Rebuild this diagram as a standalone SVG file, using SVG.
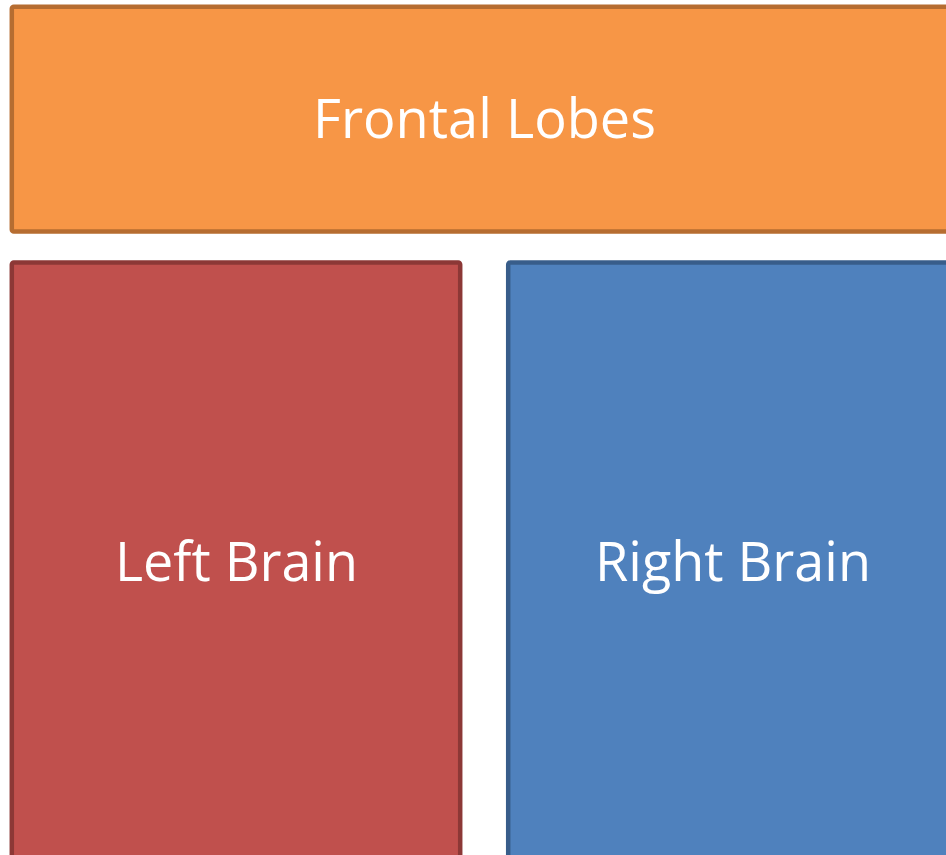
<svg xmlns="http://www.w3.org/2000/svg" width="946" height="855" viewBox="0 0 946 855">
<style>
.lbl{font-family:"Open Sans","Liberation Sans",sans-serif;font-size:54px;fill:#ffffff}
.box{stroke-width:4.5}
</style>
<rect width="946" height="855" fill="#ffffff"/>
<g id="frontal">
<rect class="box" x="11.8" y="6.8" width="960" height="224.7" rx="2" fill="#F79646" stroke="#B66D31"/>
<text class="lbl" x="313" y="138" textLength="343" lengthAdjust="spacingAndGlyphs">Frontal Lobes</text>
</g>
<g id="left">
<rect class="box" x="11.8" y="262.5" width="448.4" height="620" rx="2" fill="#C0504D" stroke="#8C3836"/>
<text class="lbl" x="115" y="581" textLength="243" lengthAdjust="spacingAndGlyphs">Left Brain</text>
</g>
<g id="right">
<rect class="box" x="508.2" y="262.5" width="460" height="620" rx="2" fill="#4F81BD" stroke="#385D8A"/>
<text class="lbl" x="595" y="581" textLength="276" lengthAdjust="spacingAndGlyphs">Right Brain</text>
</g>
<g id="connectors"/>
</svg>
